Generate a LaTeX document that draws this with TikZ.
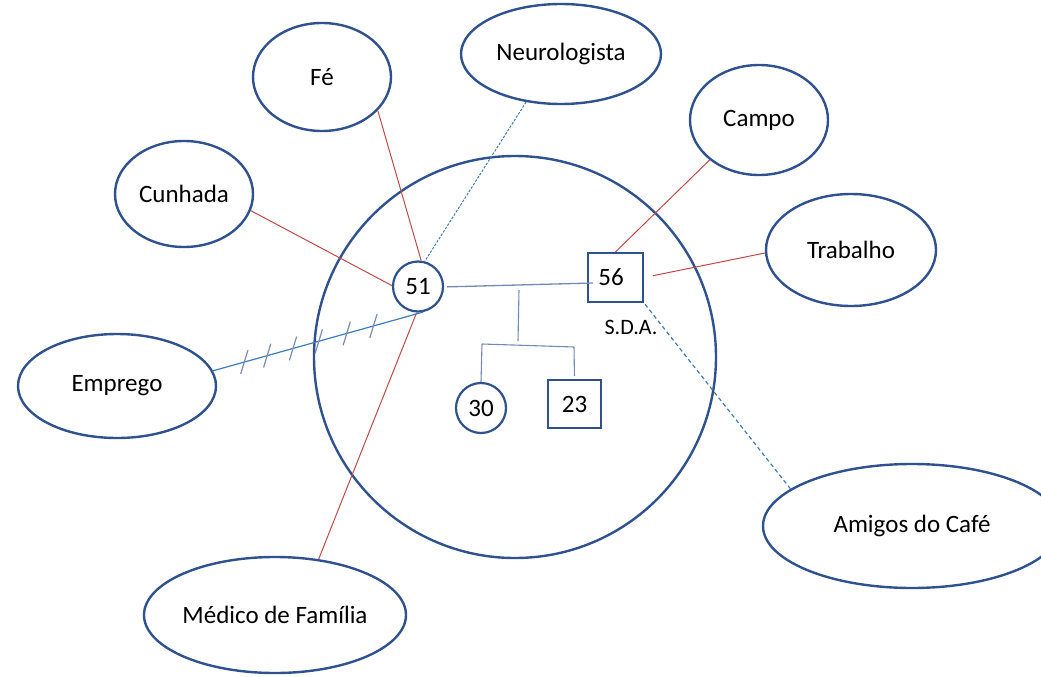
\documentclass[tikz,border=0pt]{standalone}
\usepackage{fontspec}
\setmainfont{Carlito}
\usetikzlibrary{shapes.geometric,decorations.markings}
\definecolor{outline}{HTML}{2F528F}
\definecolor{tie}{HTML}{BE4B48}
\definecolor{link}{HTML}{3F7CB8}
\definecolor{kin}{HTML}{7389B3}
\definecolor{hatchc}{HTML}{7A8CB4}
\begin{document}
\begin{tikzpicture}[x=1pt,y=-1pt,
  every node/.style={font=\fontsize{25}{29}\selectfont, inner sep=0pt},
  oval/.style={ellipse, draw=outline, line width=2.4pt},
  person/.style={circle, draw=outline, line width=2.2pt, minimum size=50pt},
  man/.style={rectangle, draw=outline, line width=2.2pt},
  strong/.style={draw=tie, line width=1pt},
  weak/.style={draw=link, line width=1pt, dash pattern=on 2.5pt off 1.5pt},
  family/.style={draw=kin, line width=1.3pt},
  hatch/.style={draw=hatchc, line width=1.2pt}
]
\useasboundingbox (0,0) rectangle (1041,677);

% household circle
\node[circle, draw=outline, line width=2.4pt, minimum size=402pt] (eco) at (515,357) {};

% household members
\node[person] (p51) at (418,286.5) {51};
\node[man, minimum width=55pt, minimum height=49pt] (s56) at (615.5,277.5) {56\kern9pt};
\node[font=\fontsize{22}{26}\selectfont] (sda) at (631,327) {S.D.A.};
\node[person] (p30) at (481,408) {30};
\node[man, minimum width=53pt, minimum height=48pt] (s23) at (574.5,404) {23};

% outside systems
\node[oval, minimum width=138pt, minimum height=108pt] (fe) at (322,77) {Fé};
\node[oval, minimum width=200pt, minimum height=100pt] (neuro) at (561,54) {Neurologista};
\node[oval, minimum width=138pt, minimum height=110pt] (campo) at (759,120) {Campo};
\node[oval, minimum width=138pt, minimum height=106pt] (cun) at (184,194) {Cunhada};
\node[oval, minimum width=170pt, minimum height=112pt] (trab) at (851,250) {Trabalho};
\node[oval, minimum width=198pt, minimum height=104pt] (emp) at (117,386) {Emprego};
\node[oval, minimum width=298pt, minimum height=124pt] (amigos) at (912,526) {Amigos do Café};
\node[oval, minimum width=262pt, minimum height=116pt] (med) at (275,615) {Médico de Família};

% family links
\coordinate (wedlock) at (593,283);
\coordinate (drop) at (519,290);
\coordinate (fork) at (518,341);
\coordinate (kidL) at (482,344);
\coordinate (kidR) at (574,347);
\draw[family, shorten <=3pt] (p51.-1) -- (wedlock);
\draw[family, line width=1.1pt] (drop) -- (fork);
\draw[family, line width=1.1pt] (kidL) -- (kidR);
\draw[family, line width=1.1pt] (kidL) -- (p30.north);
\draw[family, line width=1.1pt, shorten >=3pt] (kidR) -- (s23.north);

% strong ties
\draw[strong] (fe.-31) -- (p51.83);
\draw[strong] (cun.-14) -- (p51.178);
\draw[strong] (med.52) -- (p51.-93);
\draw[strong] (campo.-141) -- (s56.north);
\draw[strong, shorten >=9pt] (trab.-178) -- (s56.east);

% weak ties
\draw[weak] (neuro.-126) -- (p51.75);
\draw[weak, line width=1.2pt, dash pattern=on 4pt off 3pt] (amigos.163) -- (s56.south east);

% stressful tie
\draw[draw=link, line width=1.2pt, postaction={decorate},
  decoration={markings,
    mark=at position 0.149 with {\draw[hatch] (-6.7pt,-10.5pt) -- (6.7pt,10.5pt);},
    mark=at position 0.258 with {\draw[hatch] (-6.7pt,-10.5pt) -- (6.7pt,10.5pt);},
    mark=at position 0.381 with {\draw[hatch] (-6.7pt,-10.5pt) -- (6.7pt,10.5pt);},
    mark=at position 0.504 with {\draw[hatch] (-6.7pt,-10.5pt) -- (6.7pt,10.5pt);},
    mark=at position 0.637 with {\draw[hatch] (-6.7pt,-10.5pt) -- (6.7pt,10.5pt);},
    mark=at position 0.764 with {\draw[hatch] (-6.7pt,-10.5pt) -- (6.7pt,10.5pt);}}]
  (emp.9.5) -- (p51.-79);
\end{tikzpicture}
\end{document}
